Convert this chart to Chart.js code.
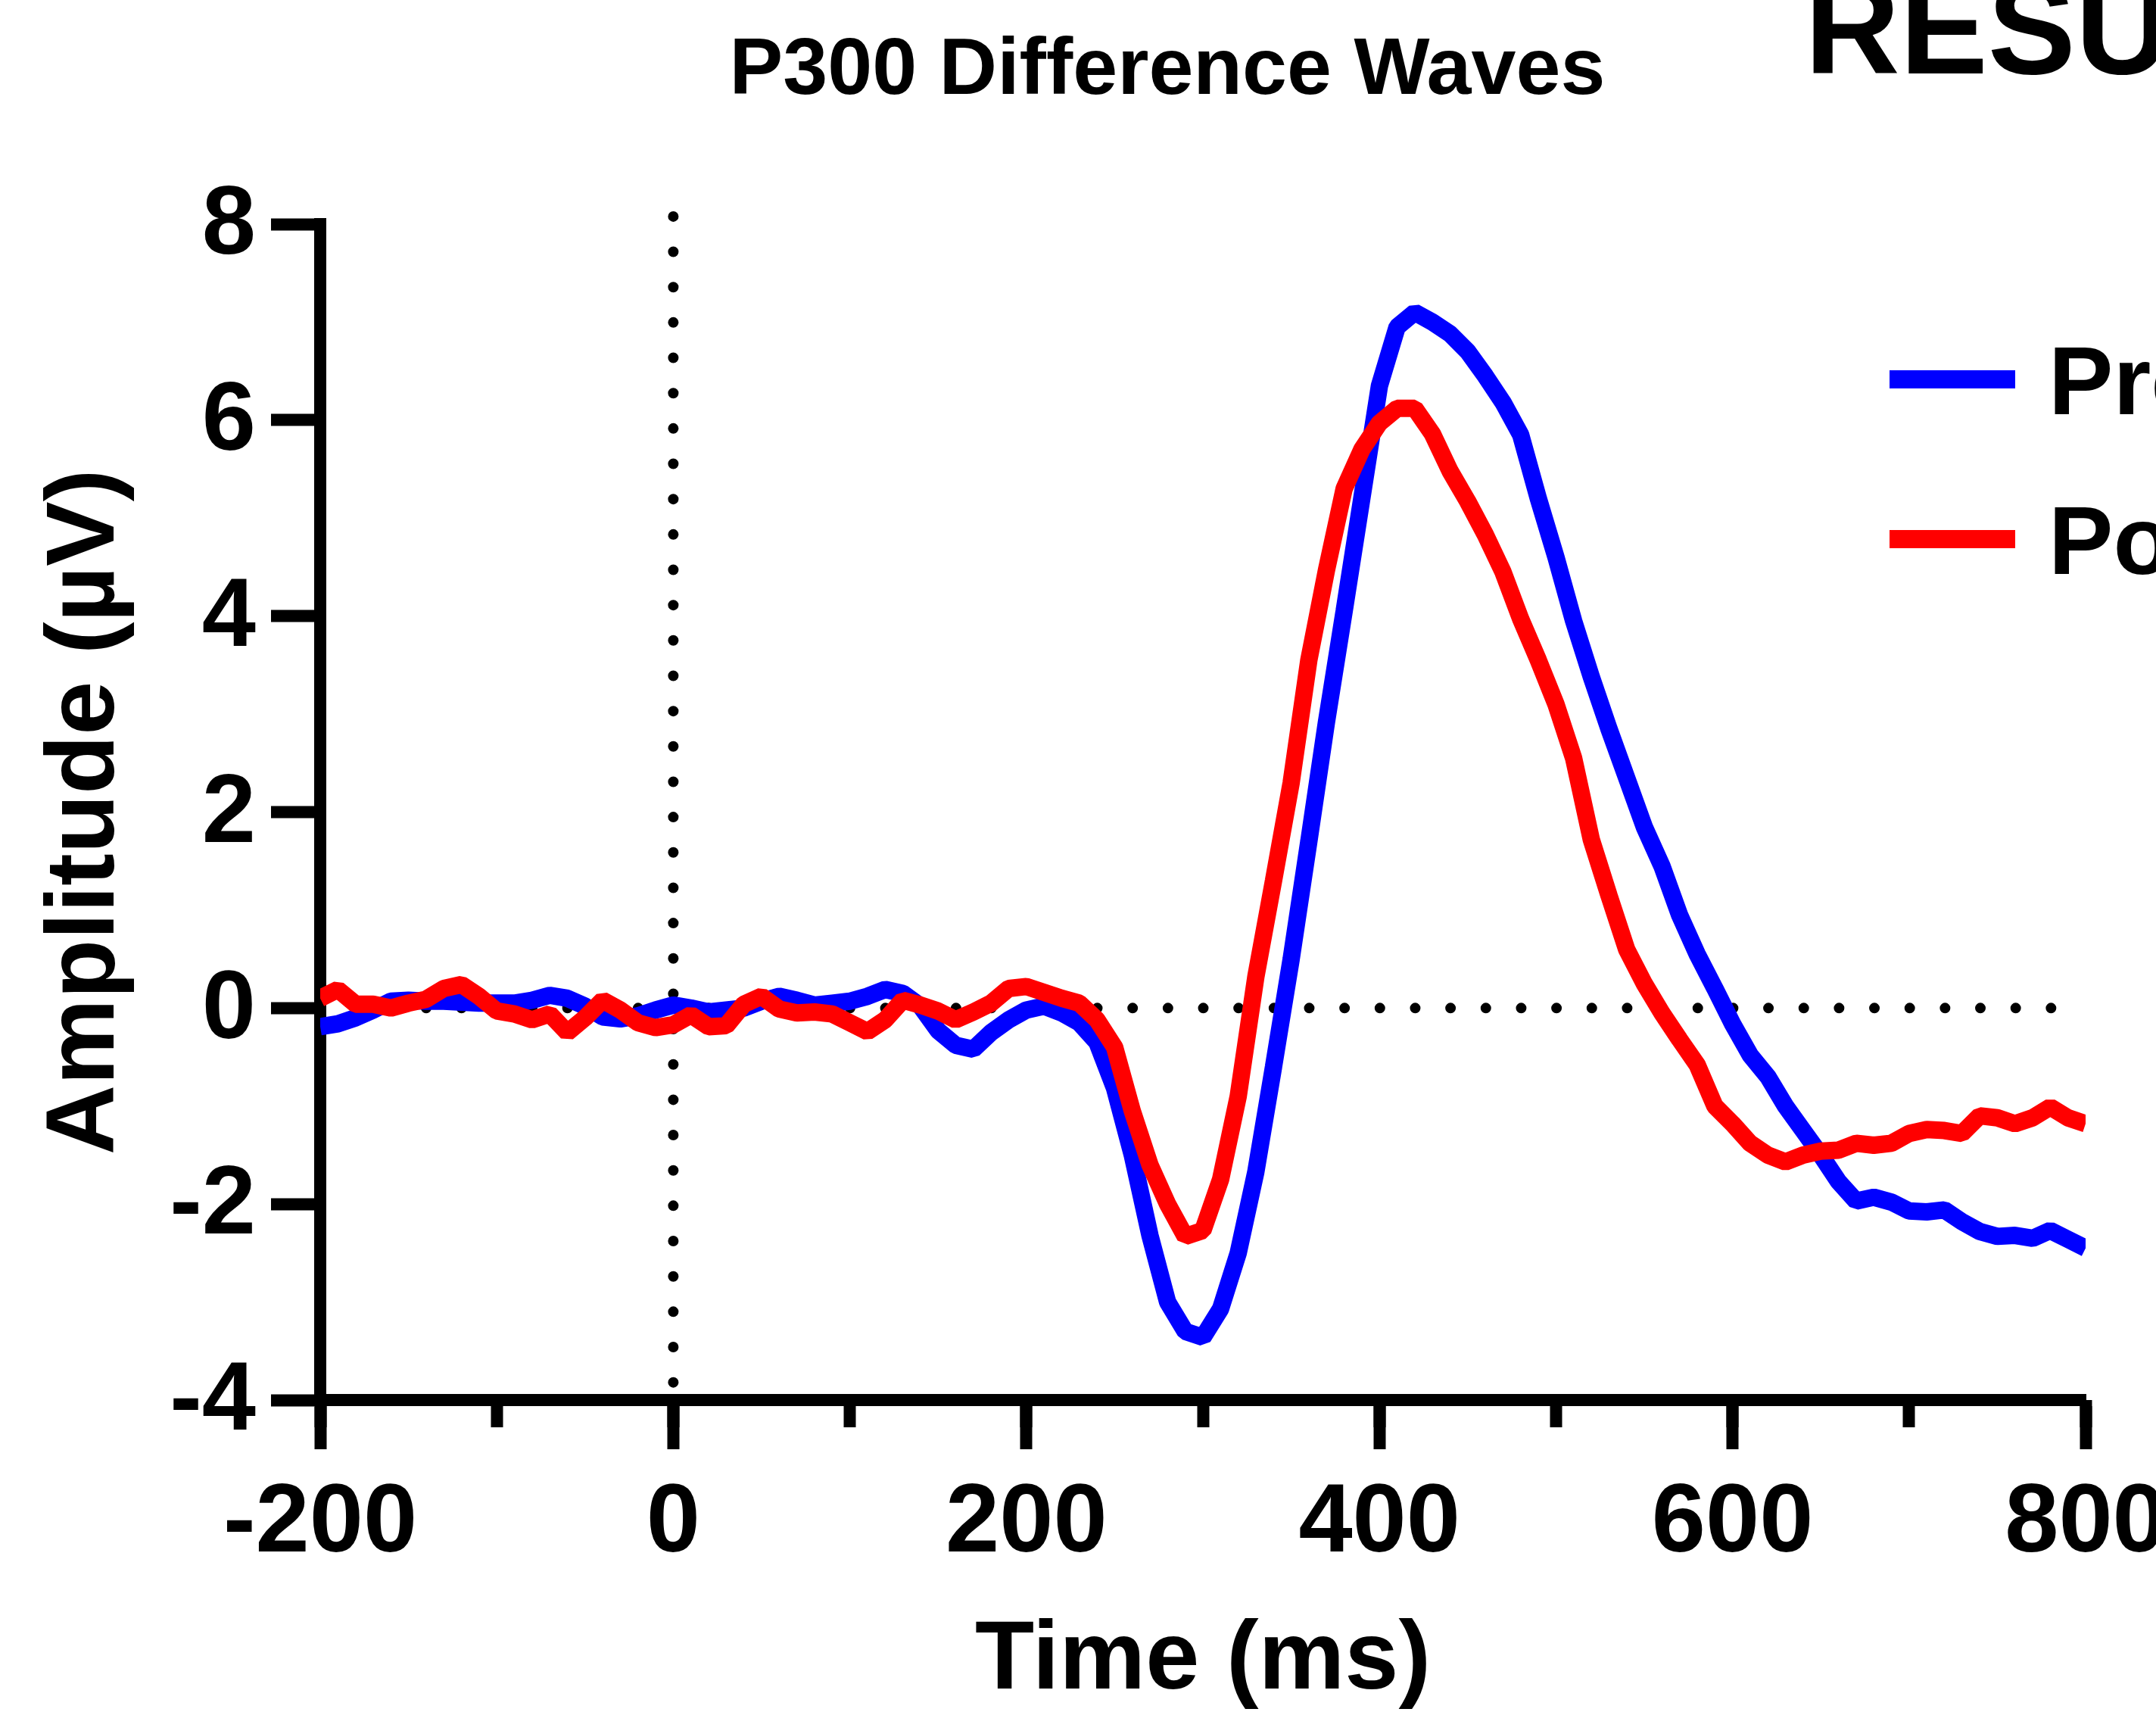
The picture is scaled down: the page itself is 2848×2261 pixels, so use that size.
<!DOCTYPE html>
<html>
<head>
<meta charset="utf-8">
<title>P300 Difference Waves</title>
<script src="https://cdn.jsdelivr.net/npm/chart.js@4.4.1/dist/chart.umd.min.js"></script>
<style>
    html, body { margin: 0; padding: 0; background: #ffffff; overflow: hidden; }
    canvas { display: block; }
</style>
</head>
<body>
<canvas id="p300Chart" width="2848" height="2261"></canvas>
<script>
// Time points (ms) and grand-average difference waves (µV)
const timeMs = [
    -200, -190, -180, -170, -160, -150, -140, -130, -120, -110,
    -100, -90, -80, -70, -60, -50, -40, -30, -20, -10,
    0, 10, 20, 30, 40, 50, 60, 70, 80, 90,
    100, 110, 120, 130, 140, 150, 160, 170, 180, 190,
    200, 210, 220, 230, 240, 250, 260, 270, 280, 290,
    300, 310, 320, 330, 340, 350, 360, 370, 380, 390,
    400, 410, 420, 430, 440, 450, 460, 470, 480, 490,
    500, 510, 520, 530, 540, 550, 560, 570, 580, 590,
    600, 610, 620, 630, 640, 650, 660, 670, 680, 690,
    700, 710, 720, 730, 740, 750, 760, 770, 780, 790,
    800
];
const preValues = [
    -0.19, -0.16, -0.10, -0.02, 0.07, 0.08, 0.07, 0.07, 0.06, 0.05,
    0.05, 0.05, 0.08, 0.13, 0.10, 0.02, -0.09, -0.11, -0.08, -0.02,
    0.03, 0.00, -0.04, -0.02, 0.00, 0.07, 0.12, 0.08, 0.03, 0.05,
    0.07, 0.12, 0.19, 0.15, 0.02, -0.23, -0.38, -0.42, -0.25, -0.12,
    -0.02, 0.02, -0.05, -0.15, -0.35, -0.82, -1.50, -2.32, -3.00, -3.30,
    -3.36, -3.07, -2.50, -1.67, -0.60, 0.50, 1.70, 2.92, 4.05, 5.20,
    6.35, 6.95, 7.10, 7.00, 6.88, 6.70, 6.45, 6.18, 5.85, 5.20,
    4.60, 3.95, 3.38, 2.85, 2.35, 1.85, 1.45, 0.95, 0.55, 0.20,
    -0.16, -0.48, -0.70, -1.00, -1.25, -1.50, -1.77, -1.97, -1.93, -1.98,
    -2.07, -2.08, -2.06, -2.18, -2.28, -2.33, -2.32, -2.35, -2.27, -2.36,
    -2.45
];
const postValues = [
    0.10, 0.19, 0.04, 0.04, 0.00, 0.05, 0.09, 0.20, 0.24, 0.12,
    -0.03, -0.06, -0.12, -0.06, -0.25, -0.10, 0.08, -0.02, -0.15, -0.20,
    -0.17, -0.07, -0.19, -0.18, 0.04, 0.12, -0.01, -0.05, -0.04, -0.06,
    -0.15, -0.24, -0.12, 0.08, 0.03, -0.03, -0.12, -0.04, 0.05, 0.20,
    0.22, 0.16, 0.10, 0.05, -0.12, -0.40, -1.05, -1.60, -2.00, -2.33,
    -2.27, -1.75, -0.90, 0.32, 1.30, 2.30, 3.55, 4.47, 5.30, 5.70,
    5.97, 6.12, 6.12, 5.86, 5.48, 5.17, 4.83, 4.45, 3.97, 3.55,
    3.10, 2.55, 1.72, 1.15, 0.60, 0.25, -0.05, -0.32, -0.58, -1.00,
    -1.18, -1.38, -1.50, -1.57, -1.50, -1.46, -1.45, -1.38, -1.40, -1.38,
    -1.28, -1.24, -1.25, -1.28, -1.10, -1.12, -1.18, -1.12, -1.01, -1.12,
    -1.18
];
const seriesLabels = ['Pre', 'Post'];

// Dotted reference lines: baseline at 0 µV and stimulus onset at 0 ms
const baselineX = [-200, 790];
const baselineY = [0, 0];
const onsetX = [0, 0];
const onsetY = [-4, 8.1];

// Axis ticks
const xMin = -200, xMax = 800, xMajorStep = 200, xMinorStep = 100;
const yMin = -4, yMax = 8, yStep = 2;

const FONT = '"Liberation Sans", Arial, Helvetica, sans-serif';

function toPoints(xs, ys) {
    return xs.map((x, i) => ({ x: x, y: ys[i] }));
}

document.addEventListener('DOMContentLoaded', function () {
    const ctx = document.getElementById('p300Chart').getContext('2d');
    Chart.defaults.font.family = FONT;
    Chart.defaults.color = '#000000';

    // title, cropped heading and legend are drawn as plain text on the canvas
    const annotationText = {
        id: 'annotationText',
        afterDraw(chart) {
            const c = chart.ctx;
            c.save();
            c.fillStyle = '#000000';
            c.textBaseline = 'alphabetic';

            c.font = 'bold 106px ' + FONT;
            c.textAlign = 'center';
            c.fillText('P300 Difference Waves', 1542, 124);

            c.font = 'bold 174px ' + FONT;
            c.textAlign = 'left';
            c.fillText('RESULTS', 2384, 97);

            // legend
            const rows = [501, 712];
            chart.data.datasets.slice(0, 2).forEach((ds, i) => {
                c.strokeStyle = ds.borderColor;
                c.lineWidth = 24;
                c.lineCap = 'butt';
                c.beginPath();
                c.moveTo(2496, rows[i]);
                c.lineTo(2662, rows[i]);
                c.stroke();
                c.font = 'bold 128px ' + FONT;
                c.fillText(ds.label, 2706, rows[i] + 46);
            });
            c.restore();
        }
    };

    new Chart(ctx, {
        type: 'line',
        data: {
            datasets: [
                {
                    label: seriesLabels[0],
                    data: toPoints(timeMs, preValues),
                    borderColor: '#0000ff',
                    borderWidth: 23,
                    borderJoinStyle: 'bevel',
                    pointRadius: 0,
                    fill: false,
                    order: 1,
                    xAxisID: 'x'
                },
                {
                    label: seriesLabels[1],
                    data: toPoints(timeMs, postValues),
                    borderColor: '#ff0000',
                    borderWidth: 23,
                    borderJoinStyle: 'bevel',
                    pointRadius: 0,
                    fill: false,
                    order: 0,
                    xAxisID: 'x'
                },
                {
                    label: 'baseline',
                    data: toPoints(baselineX, baselineY),
                    borderColor: '#000000',
                    borderWidth: 14,
                    borderDash: [0, 46.66],
                    borderCapStyle: 'round',
                    pointRadius: 0,
                    clip: false,
                    order: 2,
                    xAxisID: 'x'
                },
                {
                    label: 'onset',
                    data: toPoints(onsetX, onsetY),
                    borderColor: '#000000',
                    borderWidth: 14,
                    borderDash: [0, 46.66],
                    borderDashOffset: 23.33,
                    borderCapStyle: 'round',
                    pointRadius: 0,
                    clip: false,
                    order: 2,
                    xAxisID: 'x'
                }
            ]
        },
        options: {
            responsive: false,
            animation: false,
            layout: {
                padding: { top: 296, right: 93, left: 0, bottom: 0 }
            },
            plugins: {
                legend: { display: false },
                title: { display: false },
                tooltip: { enabled: false }
            },
            scales: {
                x: {
                    type: 'linear',
                    position: 'bottom',
                    min: xMin,
                    max: xMax,
                    ticks: {
                        stepSize: xMajorStep,
                        autoSkip: false,
                        maxRotation: 0,
                        padding: 23,
                        color: '#000000',
                        font: { size: 128, weight: 'bold' }
                    },
                    grid: {
                        drawOnChartArea: false,
                        tickLength: 65,
                        tickWidth: 16,
                        tickColor: '#000000'
                    },
                    border: { display: true, width: 16, color: '#000000' },
                    title: {
                        display: true,
                        text: 'Time (ms)',
                        color: '#000000',
                        font: { size: 128, weight: 'bold', lineHeight: 1 },
                        padding: { top: 0, bottom: 2 }
                    },
                    afterFit: function (scale) {
                        scale.height = 412;
                        scale.paddingLeft = 0;
                        scale.paddingRight = 0;
                    }
                },
                xMinor: {
                    type: 'linear',
                    axis: 'x',
                    position: { y: yMin },
                    min: xMin,
                    max: xMax,
                    ticks: { display: false, stepSize: xMinorStep },
                    grid: {
                        drawOnChartArea: false,
                        tickLength: 36,
                        tickWidth: 16,
                        tickColor: '#000000'
                    },
                    border: { display: false }
                },
                y: {
                    type: 'linear',
                    position: 'left',
                    min: yMin,
                    max: yMax,
                    ticks: {
                        stepSize: yStep,
                        padding: 20,
                        labelOffset: 4,
                        color: '#000000',
                        font: { size: 128, weight: 'bold' }
                    },
                    grid: {
                        drawOnChartArea: false,
                        tickLength: 65,
                        tickWidth: 16,
                        tickColor: '#000000'
                    },
                    border: { display: true, width: 16, color: '#000000' },
                    title: {
                        display: true,
                        text: 'Amplitude (µV)',
                        color: '#000000',
                        font: { size: 128, weight: 'bold', lineHeight: 1 },
                        padding: { top: 51, bottom: 0 }
                    },
                    afterFit: function (scale) {
                        scale.width = 423;
                        scale.paddingTop = 0;
                        scale.paddingBottom = 0;
                    }
                }
            }
        },
        plugins: [annotationText]
    });
});
</script>
</body>
</html>
